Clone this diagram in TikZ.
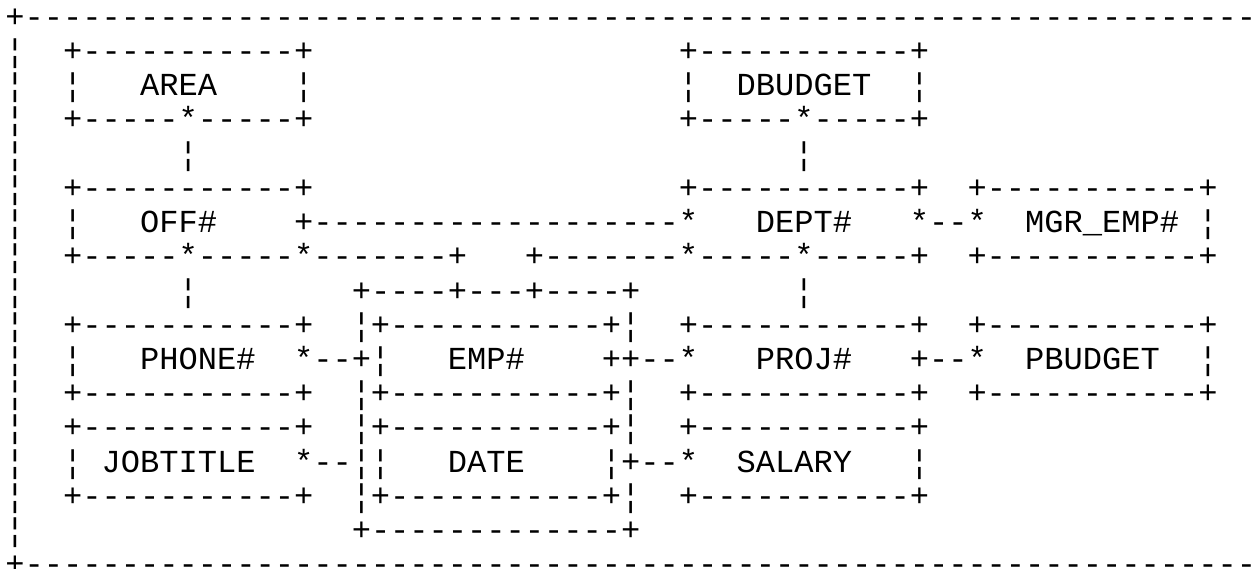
\documentclass[tikz,border=0pt]{standalone}
\usepackage{fontspec}
\setmonofont{Liberation Mono}
\newlength\cw
\setlength\cw{19.242pt}
\newcommand\gap[1]{\hspace*{#1\cw}}
\tikzset{
  asciiline/.style={anchor=base west, inner sep=0pt, outer sep=0pt,
    font=\ttfamily\fontsize{32.07pt}{34.22pt}\selectfont, text=black}
}
\begin{document}
\begin{tikzpicture}
\useasboundingbox[fill=white] (0,0) rectangle (1260pt,-569pt);
\clip (0,0) rectangle (1260pt,-569pt);
\begin{scope}[shift={(5.4pt,-27.3pt)}, y=-34.22pt]
\node[asciiline] (r0) at (0,0) {+----------------------------------------------------------------};
\node[asciiline] (r1) at (0,1) {¦\gap{2}+-----------+\gap{19}+-----------+};
\node[asciiline] (r2) at (0,2) {¦\gap{2}¦\gap{3}AREA\gap{4}¦\gap{19}¦\gap{2}DBUDGET\gap{2}¦};
\node[asciiline] (r3) at (0,3) {¦\gap{2}+-----*-----+\gap{19}+-----*-----+};
\node[asciiline] (r4) at (0,4) {¦\gap{8}¦\gap{31}¦};
\node[asciiline] (r5) at (0,5) {¦\gap{2}+-----------+\gap{19}+-----------+\gap{2}+-----------+};
\node[asciiline] (r6) at (0,6) {¦\gap{2}¦\gap{3}OFF\#\gap{4}+-------------------*\gap{3}DEPT\#\gap{3}*--*\gap{2}MGR\_EMP\#\gap{1}¦};
\node[asciiline] (r7) at (0,7) {¦\gap{2}+-----*-----*-------+\gap{3}+-------*-----*-----+\gap{2}+-----------+};
\node[asciiline] (r8) at (0,8) {¦\gap{8}¦\gap{8}+----+---+----+\gap{8}¦};
\node[asciiline] (r9) at (0,9) {¦\gap{2}+-----------+\gap{2}¦+-----------+¦\gap{2}+-----------+\gap{2}+-----------+};
\node[asciiline] (r10) at (0,10) {¦\gap{2}¦\gap{3}PHONE\#\gap{2}*--+¦\gap{3}EMP\#\gap{4}++--*\gap{3}PROJ\#\gap{3}+--*\gap{2}PBUDGET\gap{2}¦};
\node[asciiline] (r11) at (0,11) {¦\gap{2}+-----------+\gap{2}¦+-----------+¦\gap{2}+-----------+\gap{2}+-----------+};
\node[asciiline] (r12) at (0,12) {¦\gap{2}+-----------+\gap{2}¦+-----------+¦\gap{2}+-----------+};
\node[asciiline] (r13) at (0,13) {¦\gap{2}¦\gap{1}JOBTITLE\gap{2}*--¦¦\gap{3}DATE\gap{4}¦+--*\gap{2}SALARY\gap{3}¦};
\node[asciiline] (r14) at (0,14) {¦\gap{2}+-----------+\gap{2}¦+-----------+¦\gap{2}+-----------+};
\node[asciiline] (r15) at (0,15) {¦\gap{17}+-------------+};
\node[asciiline] (r16) at (0,16) {+----------------------------------------------------------------};
\end{scope}
\end{tikzpicture}
\end{document}
